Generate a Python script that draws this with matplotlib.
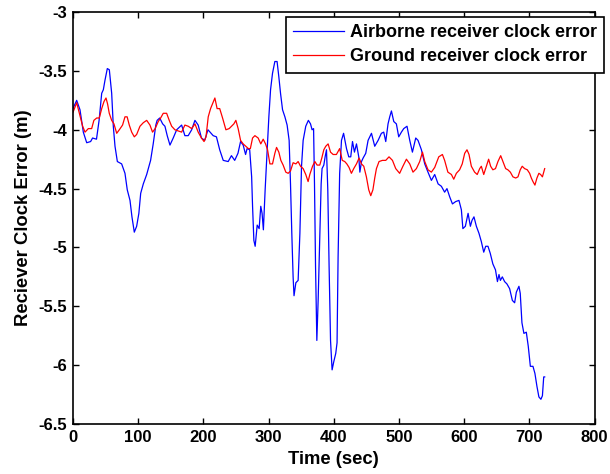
#!/usr/bin/env python3
# -*- coding: utf-8 -*-

import matplotlib
matplotlib.use("Agg")
from matplotlib import pyplot as plt

# airborne receiver clock error
air_t = [0, 1.5, 5.6, 10.7, 15.8, 21, 27, 30, 36, 40, 44, 46.5, 49, 52.6, 55.7,
         59.3, 61.8, 64.4, 68, 74.6, 79.7, 83.2, 87.4, 90.4, 94, 97.6, 101, 103.8,
         107.8, 113, 119, 123, 127, 129, 133, 137.5, 141, 144.5, 148.7, 153.7, 159,
         166.6, 171.6, 176.7, 182, 187, 192, 197, 202, 207, 215, 220, 225, 230.4,
         238, 243, 248, 253, 257, 261, 264.7, 267, 271, 274, 275.4, 277.4, 279.4,
         282.5, 285.5, 288, 290, 292, 294.7, 297.8, 300.4, 303, 306, 309.6, 313,
         315.7, 318.3, 321.4, 325, 328.4, 331.5, 333.6, 335.6, 337.6, 339, 341.8,
         345.3, 348, 350.5, 353, 357, 361, 364.3, 366.7, 369, 370.4, 372, 374, 376,
         378.5, 380.6, 382, 384.7, 386.7, 388.8, 390.8, 392.8, 395, 397.4, 400, 403,
         405, 406.6, 409, 411.8, 415, 419.5, 423, 426, 428.7, 431.7, 434.8, 438.3,
         440, 442.5, 445, 449, 452.6, 457.8, 462.8, 468, 473, 476.6, 479.7, 483.2,
         485.8, 488.4, 492, 496, 499.6, 503.7, 507.3, 512.3, 516.5, 520.6, 525.7,
         529.2, 534.4, 539.5, 544.5, 549.7, 554.8, 560, 565, 570, 573.6, 577.8, 582,
         587, 592, 595.7, 598, 601.8, 606, 609.5, 612, 615, 618.7, 622.7, 626.3, 630,
         633, 636.5, 640, 644, 648, 651, 653.4, 655.5, 658.5, 662, 665.6, 669.7,
         673.9, 677.4, 680, 684, 686, 688.6, 691.6, 695.3, 698.3, 701.5, 705.5,
         708.5, 711.6, 714.6, 717.7, 720, 722, 723.5]
air_err = [-3.82, -3.80, -3.75, -3.83, -4.02, -4.11, -4.10, -4.07, -4.08, -3.92,
           -3.69, -3.66, -3.58, -3.48, -3.49, -3.69, -3.97, -4.14, -4.27, -4.29,
           -4.37, -4.51, -4.60, -4.74, -4.87, -4.82, -4.71, -4.54, -4.46, -4.38,
           -4.26, -4.12, -3.96, -3.92, -3.90, -3.95, -3.97, -4.05, -4.13, -4.07,
           -4.00, -3.96, -4.05, -4.05, -4.00, -3.92, -3.96, -4.07, -4.09, -4.00,
           -4.05, -4.06, -4.17, -4.26, -4.27, -4.22, -4.26, -4.20, -4.10, -4.13,
           -4.21, -4.16, -4.17, -4.40, -4.65, -4.94, -4.99, -4.81, -4.84, -4.65,
           -4.71, -4.85, -4.51, -4.17, -3.89, -3.66, -3.52, -3.42, -3.42, -3.55,
           -3.69, -3.83, -3.89, -3.96, -4.09, -4.46, -4.88, -5.25, -5.41, -5.30,
           -5.28, -4.88, -4.31, -4.09, -3.97, -3.92, -3.95, -4.00, -3.99, -4.46,
           -5.16, -5.79, -5.45, -4.91, -4.46, -4.33, -4.30, -4.23, -4.17, -4.51,
           -5.16, -5.79, -6.04, -5.97, -5.90, -5.81, -5.08, -4.37, -4.09, -4.03,
           -4.16, -4.23, -4.23, -4.10, -4.19, -4.12, -4.23, -4.36, -4.27, -4.24,
           -4.20, -4.09, -4.03, -4.14, -4.09, -4.03, -4.02, -4.10, -3.95, -3.89,
           -3.84, -3.93, -3.95, -4.06, -4.02, -3.99, -3.97, -4.09, -4.19, -4.07,
           -4.09, -4.17, -4.29, -4.36, -4.43, -4.38, -4.46, -4.48, -4.53, -4.50,
           -4.57, -4.63, -4.61, -4.60, -4.68, -4.84, -4.82, -4.71, -4.82, -4.77,
           -4.74, -4.82, -4.88, -4.95, -5.04, -4.99, -4.99, -5.05, -5.14, -5.19,
           -5.29, -5.23, -5.28, -5.25, -5.29, -5.31, -5.35, -5.45, -5.47, -5.38,
           -5.33, -5.39, -5.64, -5.73, -5.72, -5.84, -6.01, -6.01, -6.07, -6.18,
           -6.27, -6.29, -6.26, -6.10, -6.10]

# ground receiver clock error
gnd_t = [0, 1.5, 5.6, 9.7, 14.8, 18.4, 23.5, 28.6, 32, 36.3, 40.3, 44, 47.5, 50.6,
         53, 55.6, 59.3, 62.8, 67, 71, 76, 79.7, 83, 86.3, 90, 94, 97.6, 102.7,
         107.8, 113, 118, 122, 126, 130.7, 134.4, 138.4, 143.6, 147.6, 151.3, 156.3,
         161.4, 166.6, 171.6, 176.7, 182, 187, 192, 197, 201, 204, 207.4, 211, 214,
         217.6, 221, 225, 229.4, 234.5, 239.5, 243, 246.7, 249.8, 253.3, 257, 261,
         265, 269, 272, 275.4, 279, 284, 288, 291.7, 295.3, 298.4, 302, 306, 309.6,
         312.2, 315.7, 318.8, 322.3, 326.4, 330, 333.6, 337.6, 341.8, 345.3, 349,
         353, 357, 360.6, 363.2, 367.4, 371, 374.4, 378.5, 381.6, 384.7, 387.7,
         391.3, 395, 399, 404, 409, 413, 416.8, 420, 423.4, 427, 430.6, 434.8, 438.8,
         442.5, 446, 450, 453.6, 456.7, 460, 462.8, 465.4, 469.4, 474.6, 479.7,
         484.7, 490, 495, 501, 506, 511.4, 516.5, 521.5, 526.7, 531.8, 536, 539.5,
         544.5, 549.7, 554.8, 561, 566.6, 570, 575, 580.4, 584, 588, 593, 597, 600.8,
         604.3, 607.4, 611, 616, 620, 623.8, 626.3, 630, 634, 637.5, 640.6, 644, 648,
         651.8, 656, 659.5, 663.6, 667, 670.8, 674.8, 679, 682.5, 686, 689, 692.7,
         696.8, 700.4, 703, 705.5, 708.5, 711.6, 714.6, 717.2, 720, 723.5]
gnd_err = [-3.85, -3.83, -3.77, -3.86, -3.97, -4.02, -3.99, -3.99, -3.92, -3.90,
           -3.90, -3.82, -3.76, -3.73, -3.78, -3.86, -3.92, -3.95, -4.03, -4.00,
           -3.96, -3.89, -3.89, -3.96, -4.02, -4.06, -4.04, -3.97, -3.94, -3.92,
           -3.96, -4.02, -3.99, -3.93, -3.90, -3.86, -3.86, -3.92, -3.97, -4.00,
           -4.01, -4.02, -3.96, -3.97, -3.99, -3.95, -4.02, -4.07, -4.10, -4.06,
           -3.89, -3.82, -3.78, -3.73, -3.82, -3.82, -3.90, -4.00, -3.99, -3.97,
           -3.95, -3.92, -3.99, -4.09, -4.12, -4.14, -4.16, -4.16, -4.07, -4.05,
           -4.07, -4.12, -4.08, -4.12, -4.17, -4.29, -4.29, -4.20, -4.15, -4.19,
           -4.26, -4.30, -4.36, -4.37, -4.35, -4.28, -4.29, -4.27, -4.31, -4.33,
           -4.38, -4.44, -4.38, -4.31, -4.27, -4.30, -4.30, -4.24, -4.17, -4.14,
           -4.12, -4.19, -4.21, -4.21, -4.16, -4.26, -4.27, -4.29, -4.32, -4.37,
           -4.33, -4.29, -4.24, -4.29, -4.31, -4.40, -4.51, -4.56, -4.51, -4.41,
           -4.33, -4.27, -4.26, -4.26, -4.23, -4.26, -4.33, -4.37, -4.31, -4.25,
           -4.29, -4.36, -4.33, -4.27, -4.19, -4.27, -4.34, -4.36, -4.32, -4.23,
           -4.21, -4.26, -4.36, -4.38, -4.42, -4.37, -4.34, -4.29, -4.20, -4.17,
           -4.21, -4.31, -4.36, -4.38, -4.33, -4.31, -4.38, -4.31, -4.25, -4.31,
           -4.34, -4.33, -4.27, -4.22, -4.27, -4.33, -4.34, -4.36, -4.40, -4.41,
           -4.40, -4.34, -4.31, -4.33, -4.34, -4.37, -4.41, -4.44, -4.47, -4.41,
           -4.37, -4.38, -4.40, -4.33]

x_ticks = [0, 100, 200, 300, 400, 500, 600, 700, 800]
y_ticks = [-6.5, -6, -5.5, -5, -4.5, -4, -3.5, -3]
y_labels = ["-6.5", "-6", "-5.5", "-5", "-4.5", "-4", "-3.5", "-3"]


def main():
  plt.rcParams['font.family'] = ['Liberation Sans', 'DejaVu Sans']
  plt.rcParams['axes.unicode_minus'] = False

  fig = plt.figure(figsize=(6.1, 4.74), dpi=100)
  ax = fig.add_axes([0.1197, 0.1055, 0.855, 0.869])

  ax.plot(air_t, air_err, color=(0, 0, 1), lw=0.9,
          label="Airborne receiver clock error")
  ax.plot(gnd_t, gnd_err, color=(1, 0, 0), lw=0.9,
          label="Ground receiver clock error")

  ax.set_xlim(0, 800)
  ax.set_ylim(-6.5, -3)
  ax.set_xticks(x_ticks)
  ax.set_xticklabels([str(v) for v in x_ticks])
  ax.set_yticks(y_ticks)
  ax.set_yticklabels(y_labels)
  ax.tick_params(direction='in', length=4, width=1, top=True, right=True,
                 labelsize=12, pad=4)
  for lab in ax.get_xticklabels() + ax.get_yticklabels():
      lab.set_fontweight('bold')
  for sp in ax.spines.values():
      sp.set_linewidth(1.2)

  ax.set_xlabel("Time (sec)", fontsize=13.3, fontweight='bold', labelpad=5)
  ax.set_ylabel("Reciever Clock Error (m)", fontsize=13.3, fontweight='bold',
                labelpad=5)

  leg = ax.legend(loc='upper left', bbox_to_anchor=(286 / 610, 1 - 17 / 474),
                  bbox_transform=fig.transFigure, fancybox=False,
                  edgecolor='black', framealpha=1, borderaxespad=0,
                  prop={'weight': 'bold', 'size': 13}, handlelength=2.8,
                  handletextpad=0.35, borderpad=0.4, labelspacing=0.4)
  leg.get_frame().set_linewidth(1.2)

  fig.savefig("out.png", dpi=100)


if __name__ == "__main__":
  main()
